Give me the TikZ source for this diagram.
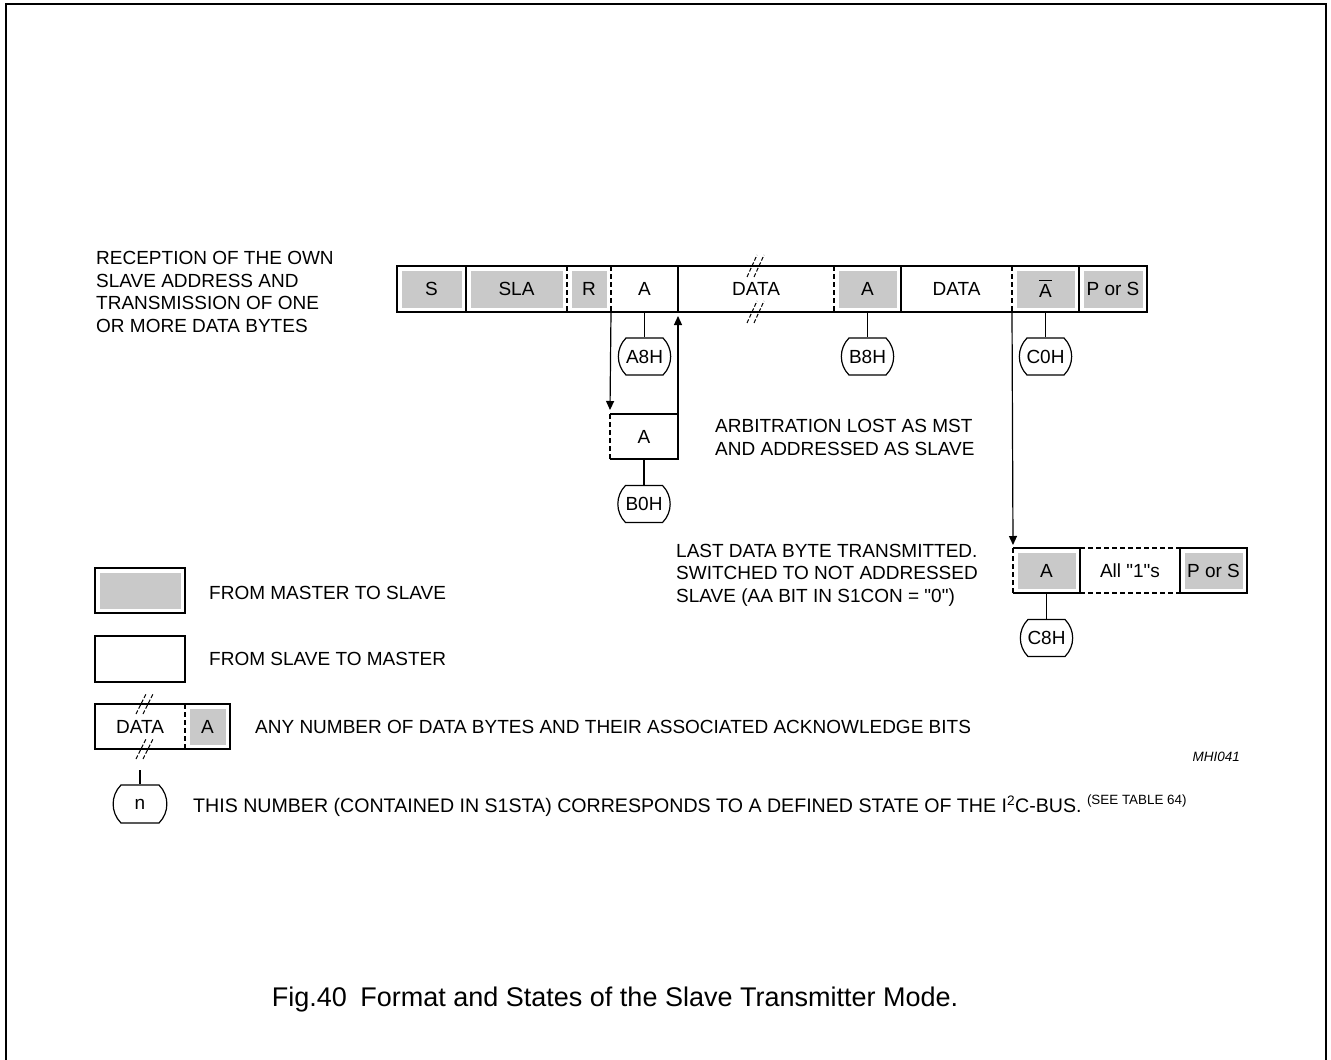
\documentclass[tikz,border=0pt]{standalone}
\usepackage{fontspec}
\setmainfont{Liberation Sans}
\usetikzlibrary{arrows.meta,shapes.misc,positioning}
\definecolor{mstgray}{gray}{0.79}

\tikzset{
  field/.style={rectangle,minimum height=46pt,inner sep=0pt,outer sep=0pt},
  mst/.style={field,fill=mstgray,draw=white,line width=9pt},
  border/.style={line width=2.5pt},
  sep/.style={line width=2pt},
  dsep/.style={line width=2pt,dash pattern=on 5pt off 3pt},
  state/.style={rounded rectangle,rounded rectangle arc length=90,draw,line width=1.2pt,
    minimum width=48pt,minimum height=37pt,inner sep=0pt},
  stem/.style={line width=1.2pt},
  flow/.style={line width=1.2pt,-{Triangle[length=9pt,width=8pt]}},
  brk/.style={line width=1pt,dash pattern=on 4pt off 2pt},
  txt/.style={align=left,anchor=west,inner sep=0pt}
}

\begin{document}
\begin{tikzpicture}[x=1pt,y=-1pt,font=\fontsize{19}{22.5}\selectfont]
  \useasboundingbox (0,0) rectangle (1331,1060);
  \draw[line width=2pt] (6,1060) -- (6,4) -- (1326,4) -- (1326,1060);

  % first frame
  \node[txt] (recv) at (96,292) {RECEPTION OF THE OWN\\SLAVE ADDRESS AND\\TRANSMISSION OF ONE\\OR MORE DATA BYTES};
  \node[mst,minimum width=69pt] (s) at (431.5,289) {S};
  \node[mst,minimum width=101pt] (sla) at (516.5,289) {SLA};
  \node[mst,minimum width=44pt] (rd) at (589,289) {R};
  \node[field,minimum width=67pt] (ack1) at (644.5,289) {A};
  \node[field,minimum width=156pt] (data1) at (756,289) {DATA};
  \node[mst,minimum width=67pt] (ack2) at (867.5,289) {A};
  \node[field,minimum width=111pt] (data2) at (956.5,289) {DATA};
  \node[mst,minimum width=67pt] (nack) at (1045.5,289) {\makebox[0pt][l]{\rule[16.5pt]{12.7pt}{1.1pt}}A};
  \node[mst,minimum width=68pt] (stop1) at (1113,289) {P or S};
  \draw[border] (s.north west) rectangle (stop1.south east);
  \foreach \f in {s,ack1,ack2,nack}
    \draw[sep] (\f.north east) -- (\f.south east);
  \foreach \f in {sla,rd,data1,data2}
    \draw[dsep] (\f.north east) -- (\f.south east);
  \foreach \y in {266,312}
    \foreach \dx in {0,7}
      \draw[brk] (747+\dx,\y+11) -- (757+\dx,\y-11);

  % states of the first frame
  \node[state] (a8h) at (644.5,356.5) {A8H};
  \node[state] (b8h) at (867.5,356.5) {B8H};
  \node[state] (c0h) at (1045.5,356.5) {C0H};
  \draw[stem] (ack1.south) -- (a8h.north);
  \draw[stem] (ack2.south) -- (b8h.north);
  \draw[stem] (nack.south) -- (c0h.north);

  % arbitration lost
  \node[field,minimum width=68pt,minimum height=45pt] (ackb) at (644,436.5) {A};
  \draw[border] (ackb.north west) -- (ackb.north east) -- (ackb.south east) -- (ackb.south west);
  \draw[dsep] (ackb.south west) -- (ackb.north west);
  \node[state] (b0h) at (644,504) {B0H};
  \draw[stem] (ackb.south) -- (b0h.north);
  \draw[flow] (ack1.south west) -- ([yshift=4pt]ackb.north west);
  \draw[flow] (ackb.north east) -- ([yshift=-4pt]ack1.south east);
  \node[txt] (lost) at (715,437.5) {ARBITRATION LOST AS MST\\AND ADDRESSED AS SLAVE};

  % last data byte
  \node[mst,minimum width=67pt,minimum height=45pt] (ack3) at (1046.5,570.5) {A};
  \node[field,minimum width=100pt,minimum height=45pt] (ones) at (1130,570.5) {All \textquotedbl1\textquotedbl s};
  \node[mst,minimum width=67pt,minimum height=45pt] (stop2) at (1213.5,570.5) {P or S};
  \draw[border] (ack3.north west) -- (ack3.north east) -- (ack3.south east) -- (ack3.south west);
  \draw[dsep] (ack3.south west) -- (ack3.north west);
  \draw[dsep] (ones.north west) -- (ones.north east);
  \draw[dsep] (ones.south west) -- (ones.south east);
  \draw[border] (stop2.north west) rectangle (stop2.south east);
  \node[state] (c8h) at (1046.5,638) {C8H};
  \draw[stem] (ack3.south) -- (c8h.north);
  \draw[flow] (nack.south west) -- ([yshift=3pt]ack3.north west);
  \node[txt] (last) at (676,575) {LAST DATA BYTE TRANSMITTED.\\SWITCHED TO NOT ADDRESSED\\SLAVE (AA BIT IN S1CON = \textquotedbl0\textquotedbl)};

  % legend
  \node[mst,minimum width=90pt,minimum height=45pt] (legm) at (140,590.5) {};
  \draw[border] (legm.north west) rectangle (legm.south east);
  \node[txt] (legmt) at (209,593) {FROM MASTER TO SLAVE};
  \node[field,minimum width=90pt] (legs) at (140,659) {};
  \draw[border] (legs.north west) rectangle (legs.south east);
  \node[txt] (legst) at (209,659) {FROM SLAVE TO MASTER};
  \node[field,minimum width=90pt,minimum height=45pt] (legd) at (140,726.5) {DATA};
  \node[mst,minimum width=45pt,minimum height=45pt] (lega) at (207.5,726.5) {A};
  \draw[border] (legd.north west) rectangle (lega.south east);
  \draw[dsep] (legd.north east) -- (legd.south east);
  \foreach \y in {704,749}
    \foreach \dx in {0,7}
      \draw[brk] (136+\dx,\y+10) -- (146+\dx,\y-10);
  \node[txt] (legdt) at (255,727) {ANY NUMBER OF DATA BYTES AND THEIR ASSOCIATED ACKNOWLEDGE BITS};
  \node[font=\fontsize{13.5}{15}\selectfont\itshape,anchor=east,inner sep=0pt] (code) at (1240,757) {MHI041};
  \coordinate (nstub) at (140,770);
  \node[state,minimum width=46pt,minimum height=38pt] (legn) at (140,804) {n};
  \draw[stem] (nstub) -- (legn.north);
  \node[txt,font=\fontsize{19.6}{23}\selectfont] (legnt) at (193,806) {THIS NUMBER (CONTAINED IN S1STA) CORRESPONDS TO A DEFINED STATE OF THE I\textsuperscript{2}C-BUS. \raisebox{8pt}{\fontsize{13.4}{15}\selectfont(SEE TABLE 64)}};

  \node[font=\fontsize{27}{31}\selectfont] (cap) at (615,1000) {Fig.40\hspace{0.5em}Format and States of the Slave Transmitter Mode.};
\end{tikzpicture}
\end{document}
